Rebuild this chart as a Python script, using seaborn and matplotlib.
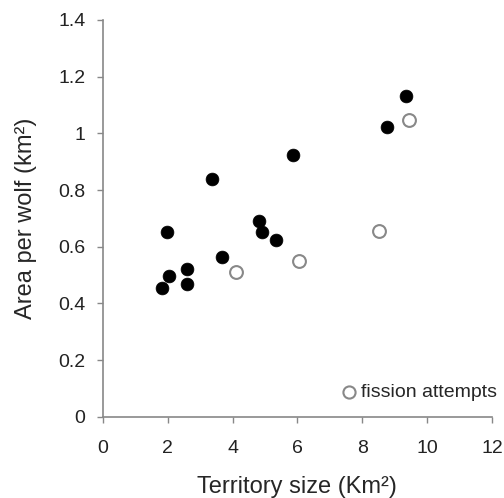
import pandas as pd
import matplotlib
matplotlib.use('Agg')
import matplotlib.pyplot as plt
import seaborn as sns

# territories without fission attempts
terr_x = [1.82, 2.03, 1.98, 2.61, 2.60, 3.37, 3.67, 4.81, 4.91, 5.33, 5.87, 8.78, 9.36]
terr_y = [0.456, 0.497, 0.651, 0.521, 0.467, 0.838, 0.564, 0.689, 0.651, 0.625, 0.925, 1.023, 1.132]
# fission attempts
fis_x = [4.10, 6.06, 8.53, 9.45]
fis_y = [0.511, 0.548, 0.655, 1.048]

x_ticks = [0, 2, 4, 6, 8, 10, 12]
y_ticks = [0, 0.2, 0.4, 0.6, 0.8, 1, 1.2, 1.4]
y_ticklabels = ['0', '0.2', '0.4', '0.6', '0.8', '1', '1.2', '1.4']

df = pd.DataFrame({'x': terr_x, 'y': terr_y})
df2 = pd.DataFrame({'x': fis_x, 'y': fis_y})

sns.set_style('ticks')
plt.rcParams['font.family'] = ['Liberation Sans', 'DejaVu Sans']

fig = plt.figure(figsize=(5.04, 4.98), dpi=100)
ax = fig.add_axes([0.204, 0.163, 0.772, 0.797])

sns.scatterplot(x='x', y='y', data=df, ax=ax, color='black', s=85,
                edgecolor='black', linewidth=0.5, zorder=3)
sns.scatterplot(x='x', y='y', data=df2, ax=ax, facecolor='white', s=85,
                edgecolor='#888888', linewidth=1.5, zorder=3, label='fission attempts')

ax.set_xlim(0, 12)
ax.set_ylim(0, 1.4)
ax.set_xticks(x_ticks)
ax.set_yticks(y_ticks)
ax.set_yticklabels(y_ticklabels)
ax.tick_params(labelsize=14, colors='#222222', length=4.5, width=1, color='#888888')
ax.tick_params(axis='x', pad=12)
ax.tick_params(axis='y', pad=8)
for sp in ['left', 'bottom']:
    ax.spines[sp].set_color('#888888')
    ax.spines[sp].set_linewidth(1.2)
sns.despine(ax=ax)

ax.set_xlabel('Territory size (Km²)', fontsize=17, labelpad=14)
ax.set_ylabel('Area per wolf (km²)', fontsize=17, labelpad=15)

leg = ax.legend(loc='center right', frameon=False, fontsize=14, handletextpad=0.1,
                handlelength=1.0, borderpad=0, borderaxespad=0, markerscale=0.95,
                bbox_to_anchor=(1.013, 0.063))

fig.savefig('out.png', dpi=100, facecolor='white')
